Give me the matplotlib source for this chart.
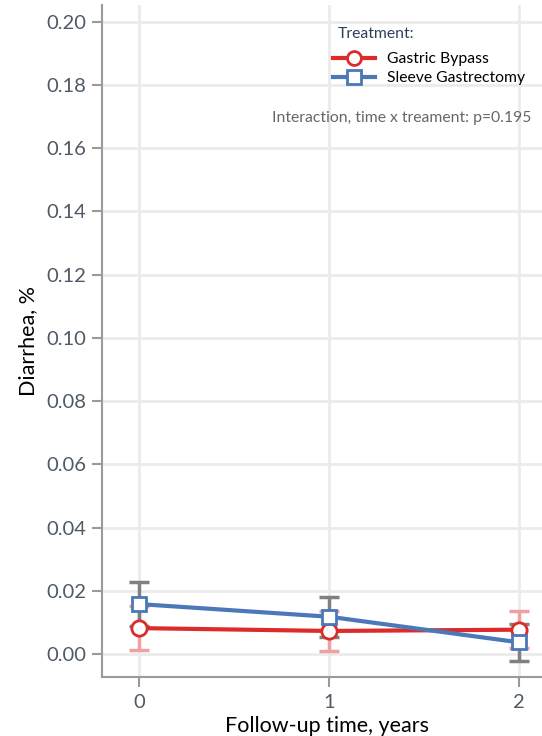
import numpy as np
import matplotlib.pyplot as plt
from matplotlib.lines import Line2D

# data
years = [0, 1, 2]
bypass_mean = [0.0082, 0.0073, 0.0077]
bypass_err = [0.0069, 0.0063, 0.0058]
sleeve_mean = [0.0158, 0.0118, 0.0037]
sleeve_err = [0.0070, 0.0063, 0.0059]

yticks = [0.00, 0.02, 0.04, 0.06, 0.08, 0.10, 0.12, 0.14, 0.16, 0.18, 0.20]

red = '#dc2b2b'
blue = '#4a78b8'
axcol = '#9a9a9a'

plt.rcParams['font.family'] = ['Lato', 'DejaVu Sans']

fig = plt.figure(figsize=(5.42, 7.36), dpi=100)
ax = fig.add_axes([0.188, 0.080, 0.812, 0.913])

ax.grid(True, color='#ebebeb', linewidth=2, zorder=0)
ax.set_axisbelow(True)

# error bars first so lines/markers sit on top
ax.errorbar(years, bypass_mean, yerr=bypass_err, fmt='none', ecolor='#f0a0a0',
            elinewidth=2.5, capsize=7, capthick=2.5, zorder=2)
ax.errorbar(years, sleeve_mean, yerr=sleeve_err, fmt='none', ecolor='#808080',
            elinewidth=2.5, capsize=7, capthick=2.5, zorder=2)

ax.plot(years, bypass_mean, color=red, lw=3, marker='o', ms=11, mfc='white',
        mec=red, mew=2, zorder=3)
ax.plot(years, sleeve_mean, color=blue, lw=3, marker='s', ms=10.5, mfc='white',
        mec=blue, mew=2, zorder=4)

ax.set_xlim(-0.195, 2.12)
ax.set_ylim(-0.0073, 0.2052)
ax.set_xticks(years)
ax.set_yticks(yticks)
ax.set_yticklabels(['%.2f' % v for v in yticks])

for s in ['top', 'right']:
    ax.spines[s].set_visible(False)
for s in ['left', 'bottom']:
    ax.spines[s].set_color(axcol)
    ax.spines[s].set_linewidth(1.5)

ax.tick_params(axis='both', colors=axcol, width=1.5, length=7, labelsize=14.5,
               labelcolor='#4f5a66')
ax.tick_params(axis='y', pad=4)
ax.tick_params(axis='x', pad=5)

ax.set_xlabel('Follow-up time, years', fontsize=15.5, color='black')
ax.xaxis.set_label_coords(0.512, -0.058)
ax.set_ylabel('Diarrhea, %', fontsize=15.5, color='black', labelpad=6)

handles = [
    Line2D([], [], color=red, lw=3, marker='o', ms=10, mfc='white', mec=red, mew=2),
    Line2D([], [], color=blue, lw=3, marker='s', ms=10, mfc='white', mec=blue, mew=2),
]
leg = ax.legend(handles, ['Gastric Bypass', 'Sleeve Gastrectomy'],
                loc='upper left', bbox_to_anchor=(333 / 542, 1 - 52 / 736),
                bbox_transform=fig.transFigure, frameon=False,
                fontsize=11.3, handlelength=2.7, borderpad=0,
                handletextpad=0.75, labelspacing=0.33, borderaxespad=0)

fig.text(338 / 542, 1 - 34 / 736, 'Treatment:', ha='left', va='center',
         fontsize=11.3, color='#2e3f5c')

ax.text(0.975, 0.832, 'Interaction, time x treament: p=0.195', transform=ax.transAxes,
        ha='right', va='center', fontsize=11.3, color='#666666')

fig.savefig('out.png', dpi=100)
